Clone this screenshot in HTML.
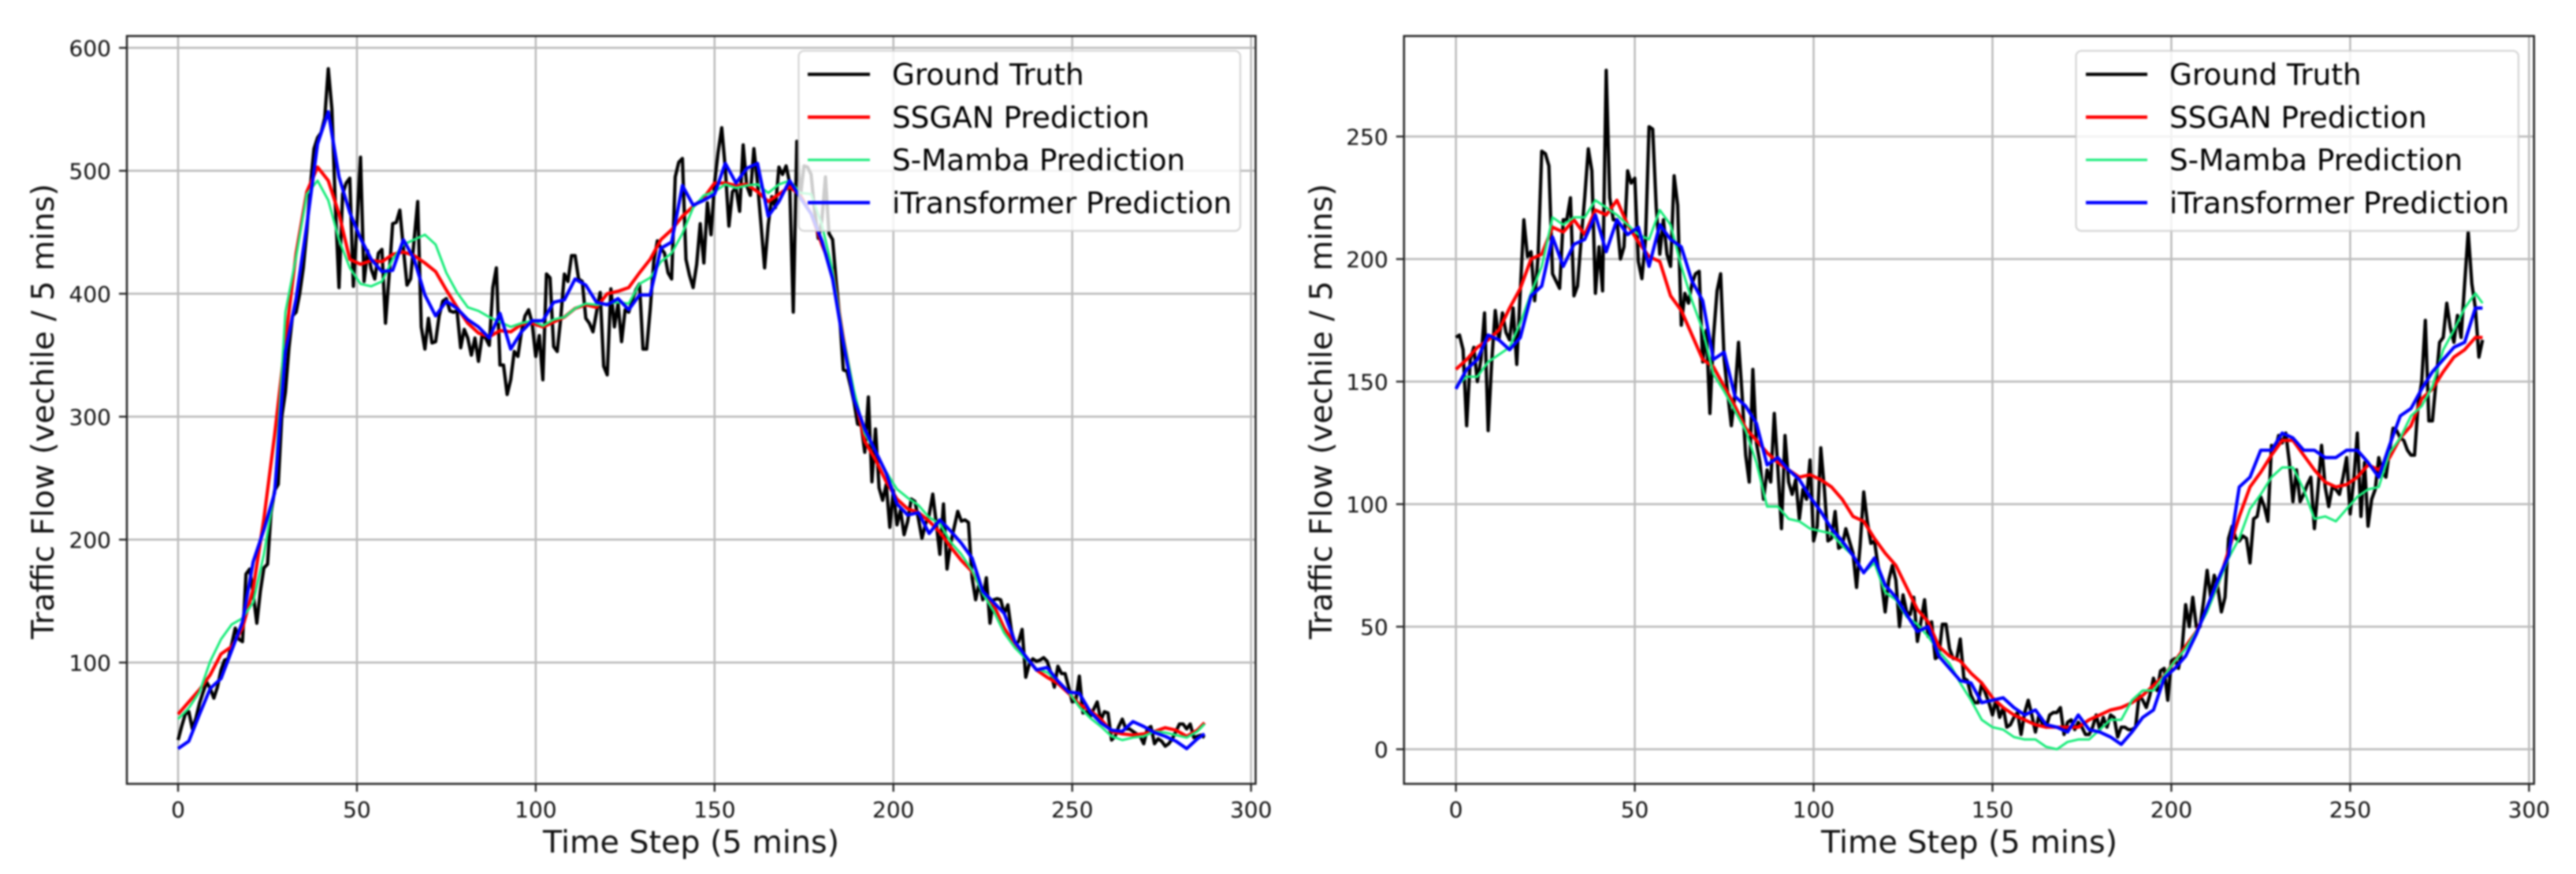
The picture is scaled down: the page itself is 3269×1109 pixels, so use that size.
<!DOCTYPE html>
<html lang="en">
<head>
<meta charset="utf-8">
<title>Traffic flow predictions</title>
<style>
html,body{margin:0;padding:0;background:#fff;width:3269px;height:1109px;overflow:hidden}
svg{display:block;filter:blur(1px);font-family:"DejaVu Sans","Liberation Sans",sans-serif}
.tick{font-size:28px;fill:#111}
.axis-title{font-size:39.6px;fill:#111}
.legend-text{font-size:37.3px;fill:#000}
</style>
</head>
<body>
<svg id="figure" xmlns="http://www.w3.org/2000/svg" width="3269" height="1109" viewBox="0 0 3269 1109">
  <rect x="0" y="0" width="3269" height="1109" fill="#fff"/>
  <g id="chart-a"></g>
  <g id="chart-b"></g>

  <text class="axis-title" x="877" y="1082" text-anchor="middle">Time Step (5 mins)</text>
  <text class="axis-title" transform="translate(68,522) rotate(-90)" text-anchor="middle">Traffic Flow (vechile / 5 mins)</text>
  <text class="axis-title" x="2499" y="1082" text-anchor="middle">Time Step (5 mins)</text>
  <text class="axis-title" transform="translate(1690,522) rotate(-90)" text-anchor="middle">Traffic Flow (vechile / 5 mins)</text>

  <g>
    <rect x="1013.5" y="64.5" width="560.5" height="228.5" rx="7" fill="#fff" fill-opacity="0.8" stroke="#ccc" stroke-opacity="0.8" stroke-width="2.3"/>
    <line x1="1025" x2="1104" y1="94.3" y2="94.3" stroke="#000" stroke-width="4.2"/>
    <text class="legend-text" x="1132" y="107.5">Ground Truth</text>
    <line x1="1025" x2="1104" y1="148.6" y2="148.6" stroke="#f00" stroke-width="4.2"/>
    <text class="legend-text" x="1132" y="161.8">SSGAN Prediction</text>
    <line x1="1025" x2="1104" y1="202.9" y2="202.9" stroke="#19ec7a" stroke-width="3"/>
    <text class="legend-text" x="1132" y="216.1">S-Mamba Prediction</text>
    <line x1="1025" x2="1104" y1="257.1" y2="257.1" stroke="#00f" stroke-width="4.2"/>
    <text class="legend-text" x="1132" y="270.3">iTransformer Prediction</text>
  </g>

  <g>
    <rect x="2634.5" y="64.5" width="561.5" height="228.5" rx="7" fill="#fff" fill-opacity="0.8" stroke="#ccc" stroke-opacity="0.8" stroke-width="2.3"/>
    <line x1="2647" x2="2725" y1="94.3" y2="94.3" stroke="#000" stroke-width="4.2"/>
    <text class="legend-text" x="2753" y="107.5">Ground Truth</text>
    <line x1="2647" x2="2725" y1="148.6" y2="148.6" stroke="#f00" stroke-width="4.2"/>
    <text class="legend-text" x="2753" y="161.8">SSGAN Prediction</text>
    <line x1="2647" x2="2725" y1="202.9" y2="202.9" stroke="#19ec7a" stroke-width="3"/>
    <text class="legend-text" x="2753" y="216.1">S-Mamba Prediction</text>
    <line x1="2647" x2="2725" y1="257.1" y2="257.1" stroke="#00f" stroke-width="4.2"/>
    <text class="legend-text" x="2753" y="270.3">iTransformer Prediction</text>
  </g>
</svg>

<script>
// Shared tick labels
const xTicks = [0, 50, 100, 150, 200, 250, 300];
const leftYTicks = [100, 200, 300, 400, 500, 600];
const rightYTicks = [0, 50, 100, 150, 200, 250];

// Time steps at which the prediction series were read (every third step, then the final step)
const predSteps = [
  0,3,6,9,12,15,18,21,24,27,
  30,33,36,39,42,45,48,51,54,57,
  60,63,66,69,72,75,78,81,84,87,
  90,93,96,99,102,105,108,111,114,117,
  120,123,126,129,132,135,138,141,144,147,
  150,153,156,159,162,165,168,171,174,177,
  180,183,186,189,192,195,198,201,204,207,
  210,213,216,219,222,225,228,231,234,237,
  240,243,246,249,252,255,258,261,264,267,
  270,273,276,279,282,285,287];

// Left chart: ground truth, one value per time step from 0
const leftTruth = [
  37,48,58,60,46,55,67,76,84,79,
  71,80,94,102,103,115,128,119,117,172,
  176,156,132,158,177,180,222,240,245,300,
  320,356,382,385,400,421,451,488,518,527,
  531,543,583,550,470,405,481,490,494,406,
  456,511,410,435,420,412,433,436,376,415,
  457,458,468,437,407,412,444,475,373,355,
  380,360,361,382,394,396,386,385,386,356,
  371,364,350,364,345,366,364,358,405,421,
  342,342,318,330,353,349,369,382,387,376,
  349,366,330,416,413,357,353,380,416,410,
  431,431,412,410,380,376,369,385,401,341,
  334,404,373,392,361,387,385,395,403,408,
  355,355,387,426,443,437,433,417,412,495,
  507,510,428,415,405,424,457,425,474,448,
  490,515,535,502,455,483,486,467,521,488,
  480,518,490,456,421,456,479,470,503,497,
  504,490,385,524,479,504,503,497,467,445,
  460,495,449,444,410,380,338,337,325,312,
  294,293,271,316,247,290,242,232,245,210,
  240,212,224,204,215,233,231,217,201,213,
  220,237,213,188,229,176,197,210,223,215,
  216,214,169,151,165,151,169,132,151,152,
  151,140,147,126,115,117,127,88,99,103,
  101,102,104,101,92,80,97,91,91,80,
  68,69,89,59,60,56,62,68,53,60,
  59,37,40,48,54,46,46,44,42,40,
  34,46,48,34,38,36,32,34,38,44,
  50,50,46,50,39,40,41,39];

// Left chart: predictions at predSteps
const leftSsgan = [
  58,68,78,90,107,113,128,160,217,285,
  362,433,483,503,492,465,428,424,427,426,
  432,434,431,425,418,403,389,376,368,365,
  370,369,375,376,373,377,381,388,391,389,
  400,402,405,417,428,444,452,463,471,478,
  490,490,488,489,483,475,481,487,480,465,
  440,419,364,318,280,265,247,233,225,222,
  215,206,194,183,174,158,147,128,115,105,
  94,88,83,75,66,61,54,44,42,41,
  42,44,47,45,40,45,51];
const leftMamba = [
  54,63,76,101,119,131,136,149,188,240,
  385,430,481,492,476,444,421,408,406,410,
  428,440,444,448,440,417,401,389,386,381,
  377,373,376,378,374,379,381,388,392,391,
  392,393,392,408,413,426,433,449,470,480,
  483,489,486,488,489,482,489,492,482,481,
  456,419,364,321,286,272,255,241,234,228,
  218,213,198,188,175,156,142,124,112,103,
  95,92,85,76,64,55,48,40,37,39,
  40,44,43,41,39,44,50];
const leftITransformer = [
  30,36,58,79,87,110,133,182,208,238,
  353,396,456,522,548,495,466,445,428,418,
  419,444,428,399,382,394,388,379,373,364,
  384,355,369,378,378,393,395,412,407,393,
  391,396,387,399,399,437,442,488,472,476,
  481,506,490,502,506,463,475,492,478,465,
  443,412,360,314,290,272,254,229,220,222,
  205,216,207,197,185,158,149,140,117,105,
  94,96,85,76,75,60,51,45,44,52,
  48,43,40,36,30,38,42];

// Right chart: ground truth, one value per time step from 0
const rightTruth = [
  168,169,163,132,159,164,150,159,178,130,
  158,179,167,178,170,167,180,157,187,216,
  201,203,183,202,244,243,238,194,191,188,
  216,216,225,185,189,208,225,245,236,186,
  205,187,277,225,216,216,200,205,236,231,
  233,199,192,208,254,253,221,202,216,202,
  197,234,222,173,186,182,190,194,195,158,
  171,137,168,187,194,159,145,132,145,166,
  145,120,109,155,125,117,102,114,109,137,
  115,90,128,109,104,110,94,106,102,118,
  85,91,123,106,85,86,97,82,83,90,
  85,80,66,83,105,93,84,85,75,68,
  56,69,75,69,50,63,56,55,62,44,
  52,61,46,52,37,38,51,51,41,37,
  37,45,29,28,22,19,19,27,23,19,
  14,20,13,17,9,10,13,15,6,15,
  20,14,7,14,10,9,14,15,15,17,
  6,11,12,8,11,9,6,6,9,14,
  8,13,9,14,13,5,9,9,8,8,
  9,22,20,17,22,29,24,32,33,20,
  36,37,33,41,59,50,62,50,50,60,
  73,62,71,66,56,62,86,91,86,85,
  87,86,76,94,95,103,99,93,124,122,
  128,125,129,117,101,114,101,104,108,111,
  90,106,124,107,99,107,106,104,111,119,
  96,110,129,95,117,91,102,106,119,113,
  111,122,131,130,127,126,122,120,120,141,
  150,175,134,134,150,166,168,182,172,166,
  177,168,190,211,190,180,160,167];

// Right chart: predictions at predSteps
const rightSsgan = [
  155,159,164,167,171,180,188,200,202,213,
  211,216,210,220,218,224,214,207,201,199,
  185,179,169,159,156,148,140,131,126,121,
  117,114,111,112,110,107,102,95,93,86,
  80,75,66,57,52,42,38,36,31,27,
  21,17,14,12,10,9,9,9,9,12,
  14,16,17,19,22,26,30,36,42,48,
  57,67,81,95,107,113,120,126,126,120,
  114,109,107,108,111,116,114,119,127,132,
  143,147,154,160,163,168,168];
const rightMamba = [
  148,152,152,158,161,164,174,186,197,217,
  214,217,217,224,221,218,214,210,208,220,
  214,197,183,171,153,146,138,130,117,99,
  99,94,93,90,89,88,83,79,72,76,
  64,61,54,51,46,40,35,27,20,12,
  9,8,5,4,4,1,0,3,4,4,
  8,12,12,20,24,24,30,36,41,48,
  56,67,78,86,98,104,111,115,115,106,
  94,95,93,98,103,106,107,121,127,136,
  140,148,163,171,180,186,182];
const rightITransformer = [
  147,155,159,169,167,163,168,185,189,209,
  197,206,208,218,203,216,210,213,197,214,
  208,205,191,183,159,162,144,140,133,116,
  119,114,110,103,97,90,85,79,72,78,
  67,62,55,48,50,38,33,28,27,19,
  20,21,17,14,16,10,9,7,14,8,
  7,5,2,7,13,16,29,33,38,47,
  58,69,79,107,111,122,122,129,127,122,
  122,119,119,122,122,117,111,124,136,139,
  147,154,159,164,166,180,180];

const SVG_NS = 'http://www.w3.org/2000/svg';

// Axis functions
function leftX(t)  { return 226 + (t * 1361.6) / 300; }
function leftY(v)  { return 60.7 + ((600 - v) * 780) / 500; }
function rightX(t) { return 1847.6 + (t * 1361.8) / 300; }
function rightY(v) { return 950.7 - (v * 777.5) / 250; }

function drawChart(root, prefix, box, xFn, yFn, yTicks, truth, ssgan, mamba, iTrans) {
  for (const t of xTicks) {
    const g = document.createElementNS(SVG_NS, 'line');
    
    
    g.setAttribute('x1', xFn(t)); g.setAttribute('x2', xFn(t));
    g.setAttribute('y1', box.top); g.setAttribute('y2', box.bottom);
    g.setAttribute('stroke', '#b8b8b8'); g.setAttribute('stroke-width', '2.4');
    root.appendChild(g);
  }
  for (const v of yTicks) {
    const g = document.createElementNS(SVG_NS, 'line');
    
    
    g.setAttribute('x1', box.left); g.setAttribute('x2', box.right);
    g.setAttribute('y1', yFn(v)); g.setAttribute('y2', yFn(v));
    g.setAttribute('stroke', '#bcbcbc'); g.setAttribute('stroke-width', '2.6');
    root.appendChild(g);
  }

  const series = [
    { key: 'ground-truth', vals: truth, steps: truth.map(function (_, i) { return i; }), color: '#000', w: 4.2 },
    { key: 'ssgan', vals: ssgan, steps: predSteps, color: '#f00', w: 4.2 },
    { key: 's-mamba', vals: mamba, steps: predSteps, color: '#19ec7a', w: 3 },
    { key: 'itransformer', vals: iTrans, steps: predSteps, color: '#00f', w: 4.2 }
  ];
  for (const s of series) {
    const pts = s.vals.map(function (v, i) { return xFn(s.steps[i]).toFixed(1) + ',' + yFn(v).toFixed(1); }).join(' ');
    const line = document.createElementNS(SVG_NS, 'polyline');
    
    
    line.setAttribute('points', pts);
    line.setAttribute('fill', 'none');
    line.setAttribute('stroke', s.color);
    line.setAttribute('stroke-width', s.w);
    line.setAttribute('stroke-linejoin', 'round');
    root.appendChild(line);
  }

  for (const t of xTicks) {
    const m = document.createElementNS(SVG_NS, 'line');
    
    
    m.setAttribute('x1', xFn(t)); m.setAttribute('x2', xFn(t));
    m.setAttribute('y1', box.bottom); m.setAttribute('y2', box.bottom + 10);
    m.setAttribute('stroke', '#222'); m.setAttribute('stroke-width', '2.3');
    root.appendChild(m);
    const l = document.createElementNS(SVG_NS, 'text');
    
    
    l.setAttribute('class', 'tick');
    l.setAttribute('x', xFn(t)); l.setAttribute('y', 1037);
    l.setAttribute('text-anchor', 'middle');
    l.textContent = t;
    root.appendChild(l);
  }
  for (const v of yTicks) {
    const m = document.createElementNS(SVG_NS, 'line');
    
    
    m.setAttribute('x1', box.left - 10); m.setAttribute('x2', box.left);
    m.setAttribute('y1', yFn(v)); m.setAttribute('y2', yFn(v));
    m.setAttribute('stroke', '#222'); m.setAttribute('stroke-width', '2.3');
    root.appendChild(m);
    const l = document.createElementNS(SVG_NS, 'text');
    
    
    l.setAttribute('class', 'tick');
    l.setAttribute('x', box.left - 20); l.setAttribute('y', yFn(v) + 10.3);
    l.setAttribute('text-anchor', 'end');
    l.textContent = v;
    root.appendChild(l);
  }

  const frame = document.createElementNS(SVG_NS, 'rect');
  
  
  frame.setAttribute('x', box.left); frame.setAttribute('y', box.top);
  frame.setAttribute('width', box.right - box.left); frame.setAttribute('height', box.bottom - box.top);
  frame.setAttribute('fill', 'none'); frame.setAttribute('stroke', '#222'); frame.setAttribute('stroke-width', '2.5');
  root.appendChild(frame);
}

drawChart(document.getElementById('chart-a'), 'left',
  { left: 161, right: 1593.4, top: 45.7, bottom: 994.6 },
  leftX, leftY, leftYTicks, leftTruth, leftSsgan, leftMamba, leftITransformer);
drawChart(document.getElementById('chart-b'), 'right',
  { left: 1781.7, right: 3215.7, top: 45.7, bottom: 994.6 },
  rightX, rightY, rightYTicks, rightTruth, rightSsgan, rightMamba, rightITransformer);
</script>
</body>
</html>
